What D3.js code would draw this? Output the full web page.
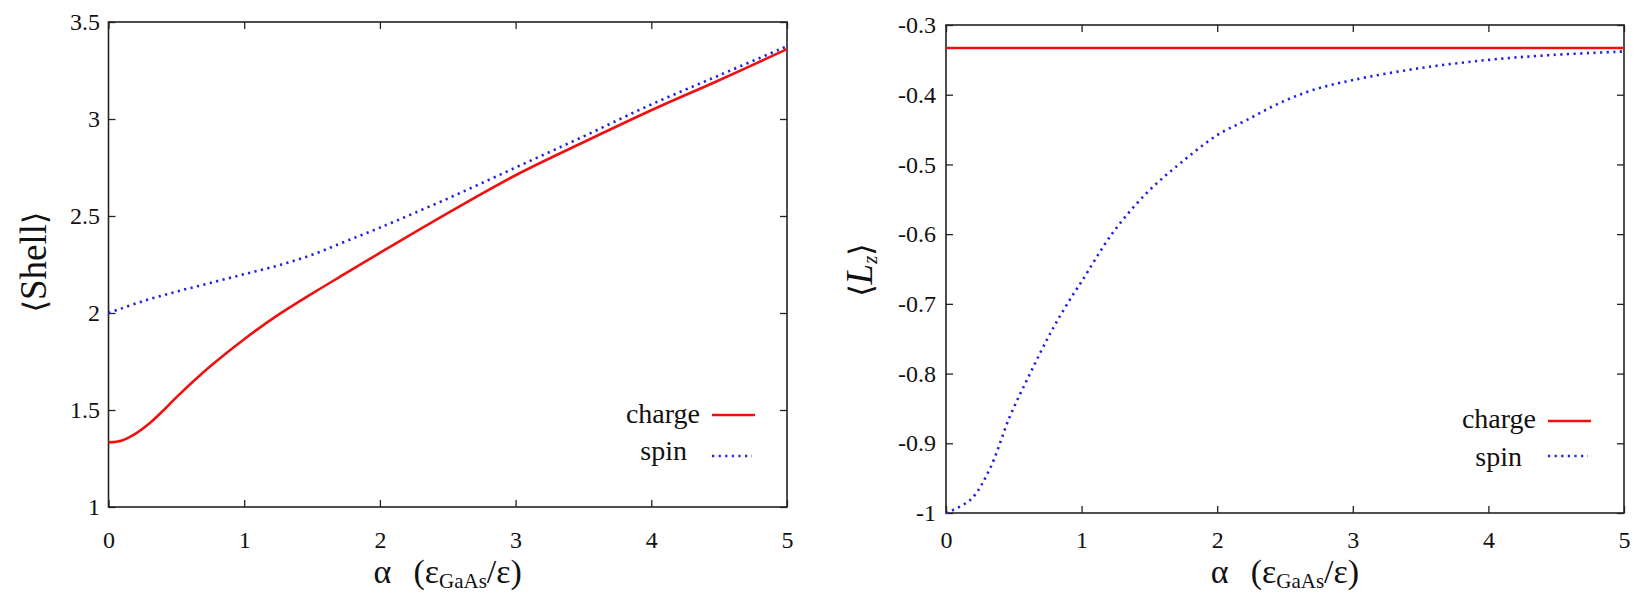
<!DOCTYPE html>
<html><head><meta charset="utf-8">
<script src="https://cdn.jsdelivr.net/npm/d3@7"></script>
<style>
html,body{margin:0;padding:0;background:#fff;}
text{font-family:"Liberation Serif","Times New Roman",serif;fill:#111;}
</style></head>
<body>
<svg id="c" width="1652" height="606"></svg>
<script>
// ---- data ----
const shellAlpha = [0,0.1,0.2,0.3,0.4,0.5,0.75,1,1.25,1.5,1.75,2,2.5,3,3.5,4,4.5,5];
const shellCharge = [1.333,1.343,1.378,1.43,1.495,1.565,1.725,1.865,1.99,2.10,2.205,2.31,2.515,2.71,2.88,3.045,3.20,3.36];
const shellSpinAlpha = [0,0.25,0.5,0.75,1,1.25,1.5,1.75,2,2.5,3,3.5,4,4.5,5];
const shellSpin = [2.0,2.06,2.11,2.155,2.20,2.245,2.30,2.37,2.44,2.59,2.75,2.91,3.075,3.225,3.375];

const lzAlpha = [0,0.18,0.32,0.47,0.62,0.77,0.91,1.0,1.23,1.48,1.73,2.0,2.22,2.46,2.71,3.0,3.49,4.0,4.47,5];
const lzSpin = [-1.0,-0.981,-0.938,-0.862,-0.80,-0.742,-0.695,-0.668,-0.598,-0.541,-0.498,-0.458,-0.436,-0.412,-0.393,-0.379,-0.362,-0.350,-0.343,-0.338];
const lzChargeAlpha = [0,1,2,3,4,5];
const lzCharge = [-0.333,-0.333,-0.333,-0.333,-0.333,-0.333];

const xTicks = [0,1,2,3,4,5];
const shellTicks = [1,1.5,2,2.5,3,3.5];
const lzTicks = [-1,-0.9,-0.8,-0.7,-0.6,-0.5,-0.4,-0.3];
const legendLabels = ["charge","spin"];

const RED = "#f01010", BLUE = "#2020e6";
const svg = d3.select("#c");

function panel(o){
  const x = d3.scaleLinear().domain([0,5]).range([o.x0,o.x1]);
  const y = d3.scaleLinear().domain(o.ydom).range([o.y1,o.y0]);
  const g = svg.append("g");
  const fmt = d => String(+(+d).toFixed(1));
  const styleAxis = (sel) => { sel.select(".domain").remove(); sel.selectAll(".tick line").attr("stroke","#222").attr("stroke-width",1.3); sel.selectAll("text").attr("font-size",24).attr("font-family","Liberation Serif").attr("fill","#111"); };
  g.append("g").attr("transform",`translate(0,${o.y1})`)
    .call(d3.axisBottom(x).tickValues(xTicks).tickSize(-7).tickSizeOuter(0).tickPadding(o.xpad).tickFormat(fmt)).call(styleAxis);
  g.append("g").attr("transform",`translate(0,${o.y0})`)
    .call(d3.axisTop(x).tickValues(xTicks).tickSize(-7).tickSizeOuter(0).tickFormat("")).call(styleAxis);
  g.append("g").attr("transform",`translate(${o.x0},0)`)
    .call(d3.axisLeft(y).tickValues(o.yticks).tickSize(-7).tickSizeOuter(0).tickPadding(o.ypad).tickFormat(fmt)).call(styleAxis);
  g.append("g").attr("transform",`translate(${o.x1},0)`)
    .call(d3.axisRight(y).tickValues(o.yticks).tickSize(-7).tickSizeOuter(0).tickFormat("")).call(styleAxis);
  g.append("rect").attr("x",o.x0).attr("y",o.y0).attr("width",o.x1-o.x0).attr("height",o.y1-o.y0)
    .attr("fill","none").attr("stroke","#222").attr("stroke-width",1.6);
  const line = d3.line().x(d=>x(d[0])).y(d=>y(d[1])).curve(d3.curveCatmullRom.alpha(0.5));
  g.append("path").datum(d3.zip(o.redX,o.redY)).attr("d",line)
    .attr("fill","none").attr("stroke",RED).attr("stroke-width",2.6);
  g.append("path").datum(d3.zip(o.blueX,o.blueY)).attr("d",line)
    .attr("fill","none").attr("stroke",BLUE).attr("stroke-width",2.6).attr("stroke-dasharray","2.2,4.4");
  // legend
  const lg = g.append("g");
  legendLabels.forEach((lab,i)=>{
    lg.append("text").attr("x",o.legX[i]).attr("y",o.legY[i]).attr("text-anchor","end")
      .attr("font-size",28).text(lab);
    lg.append("line").attr("x1",o.legL0).attr("x2",o.legL1[i]).attr("y1",o.legLY[i]).attr("y2",o.legLY[i])
      .attr("stroke",i===0?RED:BLUE).attr("stroke-width",2.6)
      .attr("stroke-dasharray",i===0?null:"2.2,4.4");
  });
  // x label
  const xl = g.append("text").attr("x",(o.x0+o.x1)/2).attr("y",583).attr("text-anchor","middle").attr("font-size",34);
  xl.append("tspan").text("α");
  xl.append("tspan").attr("dx",22).text("(ε");
  xl.append("tspan").attr("font-size",21).attr("dy",5).text("GaAs");
  xl.append("tspan").attr("dy",-5).text("/ε)");
  return {x,y,g};
}

panel({x0:108.5,x1:787,y0:22,y1:507,ydom:[1,3.5],yticks:shellTicks,xpad:24,ypad:8.5,
  redX:shellAlpha,redY:shellCharge,blueX:shellSpinAlpha,blueY:shellSpin,
  legX:[700,687],legY:[423,460],legL0:712,legL1:[755,752],legLY:[415,456]});
panel({x0:946,x1:1624,y0:25,y1:513,ydom:[-1,-0.3],yticks:lzTicks,xpad:18,ypad:10,
  redX:lzChargeAlpha,redY:lzCharge,blueX:lzAlpha,blueY:lzSpin,
  legX:[1536,1522],legY:[428,466],legL0:1548,legL1:[1591,1588],legLY:[421,456]});

// y labels
const yl1 = svg.append("text").attr("transform","translate(46,262) rotate(-90)").attr("text-anchor","middle").attr("font-size",37);
yl1.append("tspan").attr("font-family","DejaVu Serif").attr("font-size",32).text("⟨");
yl1.append("tspan").text("Shell");
yl1.append("tspan").attr("font-family","DejaVu Serif").attr("font-size",32).text("⟩");

const yl2 = svg.append("text").attr("transform","translate(872,270) rotate(-90)").attr("text-anchor","middle").attr("font-size",37);
yl2.append("tspan").attr("font-family","DejaVu Serif").attr("font-size",32).text("⟨");
yl2.append("tspan").attr("font-style","italic").text("L");
yl2.append("tspan").attr("font-style","italic").attr("font-size",21).attr("dy",5).text("z");
yl2.append("tspan").attr("font-family","DejaVu Serif").attr("font-size",32).attr("dy",-5).text("⟩");
</script>
</body></html>
